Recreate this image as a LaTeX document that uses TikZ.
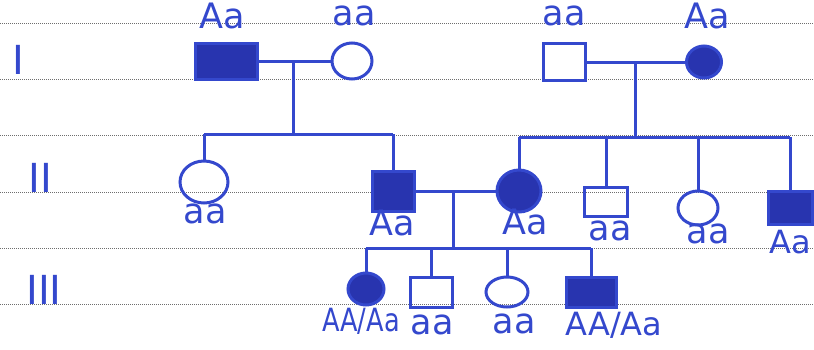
\documentclass[tikz,border=0pt]{standalone}
\usepackage{fontspec}
\setmainfont{DejaVu Sans}
\usetikzlibrary{shapes.geometric}
\definecolor{pen}{RGB}{52,72,205}
\definecolor{ink}{RGB}{40,52,175}
\definecolor{rule}{RGB}{110,110,110}
\tikzset{
  conn/.style={draw=pen, line width=3pt},
  male/.style={rectangle, draw=pen, line width=3pt, inner sep=0pt},
  female/.style={ellipse, draw=pen, line width=3pt, inner sep=0pt},
  aff/.style={fill=ink},
  gtxt/.style={text=pen, font=\fontsize{35}{35}\selectfont, inner sep=0pt},
  gmid/.style={text=pen, font=\fontsize{32}{32}\selectfont, inner sep=0pt},
  gen/.style={text=pen, font=\fontsize{40}{40}\selectfont, inner sep=0pt},
  ruled/.style={draw=rule, line width=1pt, densely dotted}
}
\begin{document}
\begin{tikzpicture}[x=1pt,y=-1pt]
\useasboundingbox (0,0) rectangle (814,349);
% ruled paper lines
\foreach \yy in {23,79,135,192,248,304}
  \draw[ruled] (0,\yy) -- (814,\yy);
% generation labels
\node[gen] (gI) at (18,60) {I};
\node[gen] (gII) at (40,178) {II};
\node[gen] (gIII) at (44,290) {III};

% Generation I
\node[male,aff,minimum width=62pt,minimum height=36pt] (sq1) at (226,61) {};
\node[female,minimum width=40pt,minimum height=36pt] (c1) at (352,61) {};
\node[male,minimum width=42pt,minimum height=37pt] (sq2) at (564,62) {};
\node[female,aff,minimum width=35pt,minimum height=32pt] (c2) at (704,62) {};
\node[gtxt] (l1) at (222,16) {Aa};
\node[gtxt] (l2) at (354,16) {aa};
\node[gtxt] (l3) at (564,16) {aa};
\node[gtxt] (l4) at (707,16) {Aa};

% Generation II
\node[female,minimum width=48pt,minimum height=42pt] (d1) at (204,182) {};
\node[male,aff,minimum width=42pt,minimum height=40pt] (d2) at (393,191) {};
\node[female,aff,minimum width=44pt,minimum height=42pt] (d3) at (519,191) {};
\node[male,minimum width=43pt,minimum height=29pt] (d4) at (606,202) {};
\node[female,minimum width=40pt,minimum height=34pt] (d5) at (698,208) {};
\node[male,aff,minimum width=44pt,minimum height=33pt] (d6) at (790,208) {};
\node[gtxt] (l5) at (205,214) {aa};
\node[gtxt] (l6) at (392,223) {Aa};
\node[gtxt] (l7) at (525,222) {Aa};
\node[gtxt] (l8) at (610,231) {aa};
\node[gtxt] (l9) at (708,234) {aa};
\node[gmid] (l10) at (790,242) {Aa};

% Generation III
\node[female,aff,minimum width=36pt,minimum height=32pt] (e1) at (366,289) {};
\node[male,minimum width=42pt,minimum height=30pt] (e2) at (431,292) {};
\node[female,minimum width=42pt,minimum height=30pt] (e3) at (507,292) {};
\node[male,aff,minimum width=50pt,minimum height=30pt] (e4) at (591,292) {};
\node[gmid,xscale=0.8] (l11) at (361,321) {AA/Aa};
\node[gtxt] (l12) at (432,325) {aa};
\node[gtxt] (l13) at (514,324) {aa};
\node[gmid] (l14) at (614,325) {AA/Aa};

% coordinates
\coordinate (m1) at (293,61);
\coordinate (s1) at (293,134);
\coordinate (s1a) at (204,134);
\coordinate (s1b) at (393,134);
\coordinate (m2) at (635,62);
\coordinate (s2) at (635,137);
\coordinate (s2a) at (519,137);
\coordinate (s2b) at (606,137);
\coordinate (s2c) at (698,137);
\coordinate (s2d) at (790,137);
\coordinate (m3) at (453,191);
\coordinate (s3) at (453,248);
\coordinate (s3a) at (366,248);
\coordinate (s3b) at (431,248);
\coordinate (s3c) at (507,248);
\coordinate (s3d) at (591,248);

% connectors generation I
\draw[conn] (sq1.east) -- (c1.west);
\draw[conn] (m1) -- (s1);
\draw[conn] (s1a) -- (s1b);
\draw[conn] (s1a) -- (d1.north);
\draw[conn] (s1b) -- (d2.north);
\draw[conn] (sq2.east) -- (c2.west);
\draw[conn] (m2) -- (s2);
\draw[conn] (s2a) -- (s2d);
\draw[conn] (s2a) -- (d3.north);
\draw[conn] (s2b) -- (d4.north);
\draw[conn] (s2c) -- (d5.north);
\draw[conn] (s2d) -- (d6.north);
% connectors generation II
\draw[conn] (d2.east) -- (d3.west);
\draw[conn] (m3) -- (s3);
\draw[conn] (s3a) -- (s3d);
\draw[conn] (s3a) -- (e1.north);
\draw[conn] (s3b) -- (e2.north);
\draw[conn] (s3c) -- (e3.north);
\draw[conn] (s3d) -- (e4.north);
\end{tikzpicture}
\end{document}
